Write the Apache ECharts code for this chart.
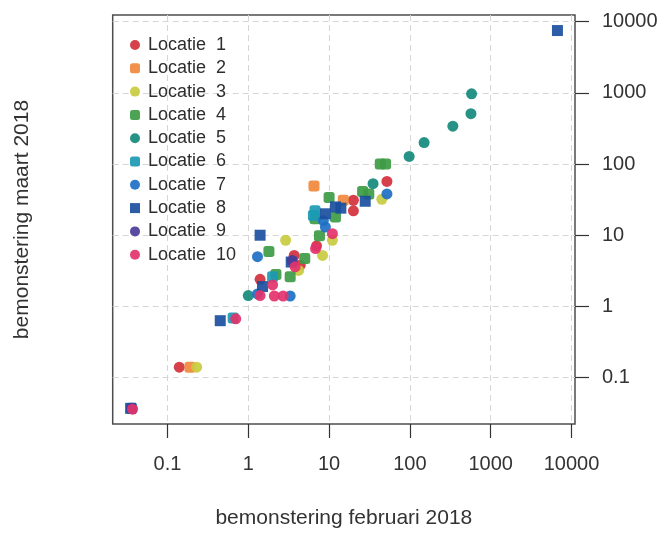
<!DOCTYPE html>
<html>
<head>
<meta charset="utf-8">
<script src="https://cdn.jsdelivr.net/npm/echarts@6/dist/echarts.min.js"></script>
<style>
html, body { margin: 0; padding: 0; background: #fff; }
#chart { width: 667px; height: 534px; }
</style>
</head>
<body>
<div id="chart"></div>
<script>
var locNames = ['Locatie  1', 'Locatie  2', 'Locatie  3', 'Locatie  4', 'Locatie  5',
	'Locatie  6', 'Locatie  7', 'Locatie  8', 'Locatie  9', 'Locatie  10'];
var locColors = ['#d3303c', '#f0883c', '#c9cc3f', '#3e9b45', '#138a7c',
	'#1b9ab4', '#1e70c4', '#1a4f9e', '#4a3d99', '#e3336b'];
var locSymbols = ['circle', 'roundRect', 'circle', 'roundRect', 'circle',
	'roundRect', 'circle', 'rect', 'circle', 'circle'];

// [februari, maart]
var loc1 = [[0.14, 0.14], [1.4, 2.4], [3.7, 5.2], [4.4, 3.8], [7.0, 7.1], [20, 31], [20, 22], [52, 57]];
var loc2 = [[0.19, 0.14], [6.5, 49], [15, 31]];
var loc3 = [[0.23, 0.14], [2.9, 8.5], [11, 8.5], [8.3, 5.2], [4.2, 3.2], [45, 32]];
var loc4 = [[43, 100], [50, 100], [26, 41], [31, 38], [10, 34], [6.7, 17], [12, 18], [7.6, 9.8],
	[1.8, 5.9], [5.0, 4.7], [3.3, 2.6], [2.2, 2.8]];
var loc5 = [[580, 970], [570, 510], [340, 340], [150, 200], [98, 128], [35, 53], [1.0, 1.42]];
var loc6 = [[6.7, 22], [6.4, 19], [2.0, 2.6], [0.65, 0.69], [0.036, 0.037]];
var loc7 = [[52, 38], [8.5, 16], [9, 13], [1.3, 5.0], [1.3, 1.5], [3.3, 1.4]];
var loc8 = [[6700, 7500], [28, 30], [9, 20], [12, 25], [14, 24], [1.4, 10], [3.4, 4.2], [1.5, 1.9],
	[0.45, 0.63], [0.035, 0.037]];
var loc9 = [[0.036, 0.037], [3.5, 4.4]];
var loc10 = [[0.037, 0.036], [0.7, 0.67], [2.1, 1.4], [2.7, 1.4], [1.4, 1.42], [2.0, 2.0],
	[3.8, 3.6], [11, 10.5], [6.8, 6.5]];
var locData = [loc1, loc2, loc3, loc4, loc5, loc6, loc7, loc8, loc9, loc10];

var tickValues = [0.1, 1, 10, 100, 1000, 10000];
var xRange = [0.021, 11050];
var yRange = [0.0223, 12400];

function fmt(v) {
	return String(Number(Number(v).toPrecision(3)));
}

var series = locData.map(function(d, i) {
	return {
		name: locNames[i],
		type: 'scatter',
		data: d,
		symbol: locSymbols[i],
		symbolSize: 11,
		itemStyle: { color: locColors[i], opacity: 0.92 }
	};
});
// faint 1:1 line
series[0].markLine = {
	silent: true,
	symbol: 'none',
	label: { show: false },
	lineStyle: { color: '#e6e6e6', type: 'solid', width: 1 },
	data: [[{ coord: [xRange[0], xRange[0]] }, { coord: [xRange[1], xRange[1]] }]]
};

var myChart = echarts.init(document.getElementById('chart'));
myChart.setOption({
	animation: false,
	textStyle: { fontFamily: 'Liberation Sans, Arial, sans-serif' },
	grid: {
		left: 112.7, right: 92, top: 15, bottom: 107.3,
		show: true, borderColor: '#4d4d4d', borderWidth: 1.5, backgroundColor: 'transparent'
	},
	legend: {
		orient: 'vertical',
		left: 125, top: 31,
		itemWidth: 10, itemHeight: 10, itemGap: 5.3,
		textStyle: { fontSize: 18, color: '#2e2e2e', lineHeight: 18, padding: [0, 0, 0, 3] },
		data: locNames
	},
	xAxis: {
		type: 'log', logBase: 10,
		min: xRange[0], max: xRange[1],
		name: 'bemonstering februari 2018',
		nameLocation: 'middle', nameGap: 84,
		nameTextStyle: { fontSize: 21, color: '#333' },
		axisLine: { show: false },
		axisTick: { show: true, length: 14, inside: false, customValues: tickValues,
			lineStyle: { color: '#333', width: 1.2 } },
		axisLabel: { fontSize: 20, color: '#333', margin: 30, customValues: tickValues, formatter: fmt },
		splitLine: { show: true, lineStyle: { color: '#d6d6d6', type: [6, 4], width: 1 } },
		minorTick: { show: false }
	},
	yAxis: [{
		type: 'log', logBase: 10, position: 'right',
		min: yRange[0], max: yRange[1],
		axisLine: { show: false },
		axisTick: { show: true, length: 14, inside: false, customValues: tickValues,
			lineStyle: { color: '#333', width: 1.2 } },
		axisLabel: { fontSize: 20, color: '#333', margin: 27, align: 'left', customValues: tickValues, formatter: fmt },
		splitLine: { show: true, lineStyle: { color: '#d6d6d6', type: [6, 4], width: 1 } }
	}, {
		type: 'value', position: 'left', min: 0, max: 1,
		name: 'bemonstering maart 2018',
		nameLocation: 'middle', nameGap: 80,
		nameTextStyle: { fontSize: 21, color: '#333' },
		axisLine: { show: false }, axisTick: { show: false },
		axisLabel: { show: false }, splitLine: { show: false }
	}],
	series: series
});
</script>
</body>
</html>
